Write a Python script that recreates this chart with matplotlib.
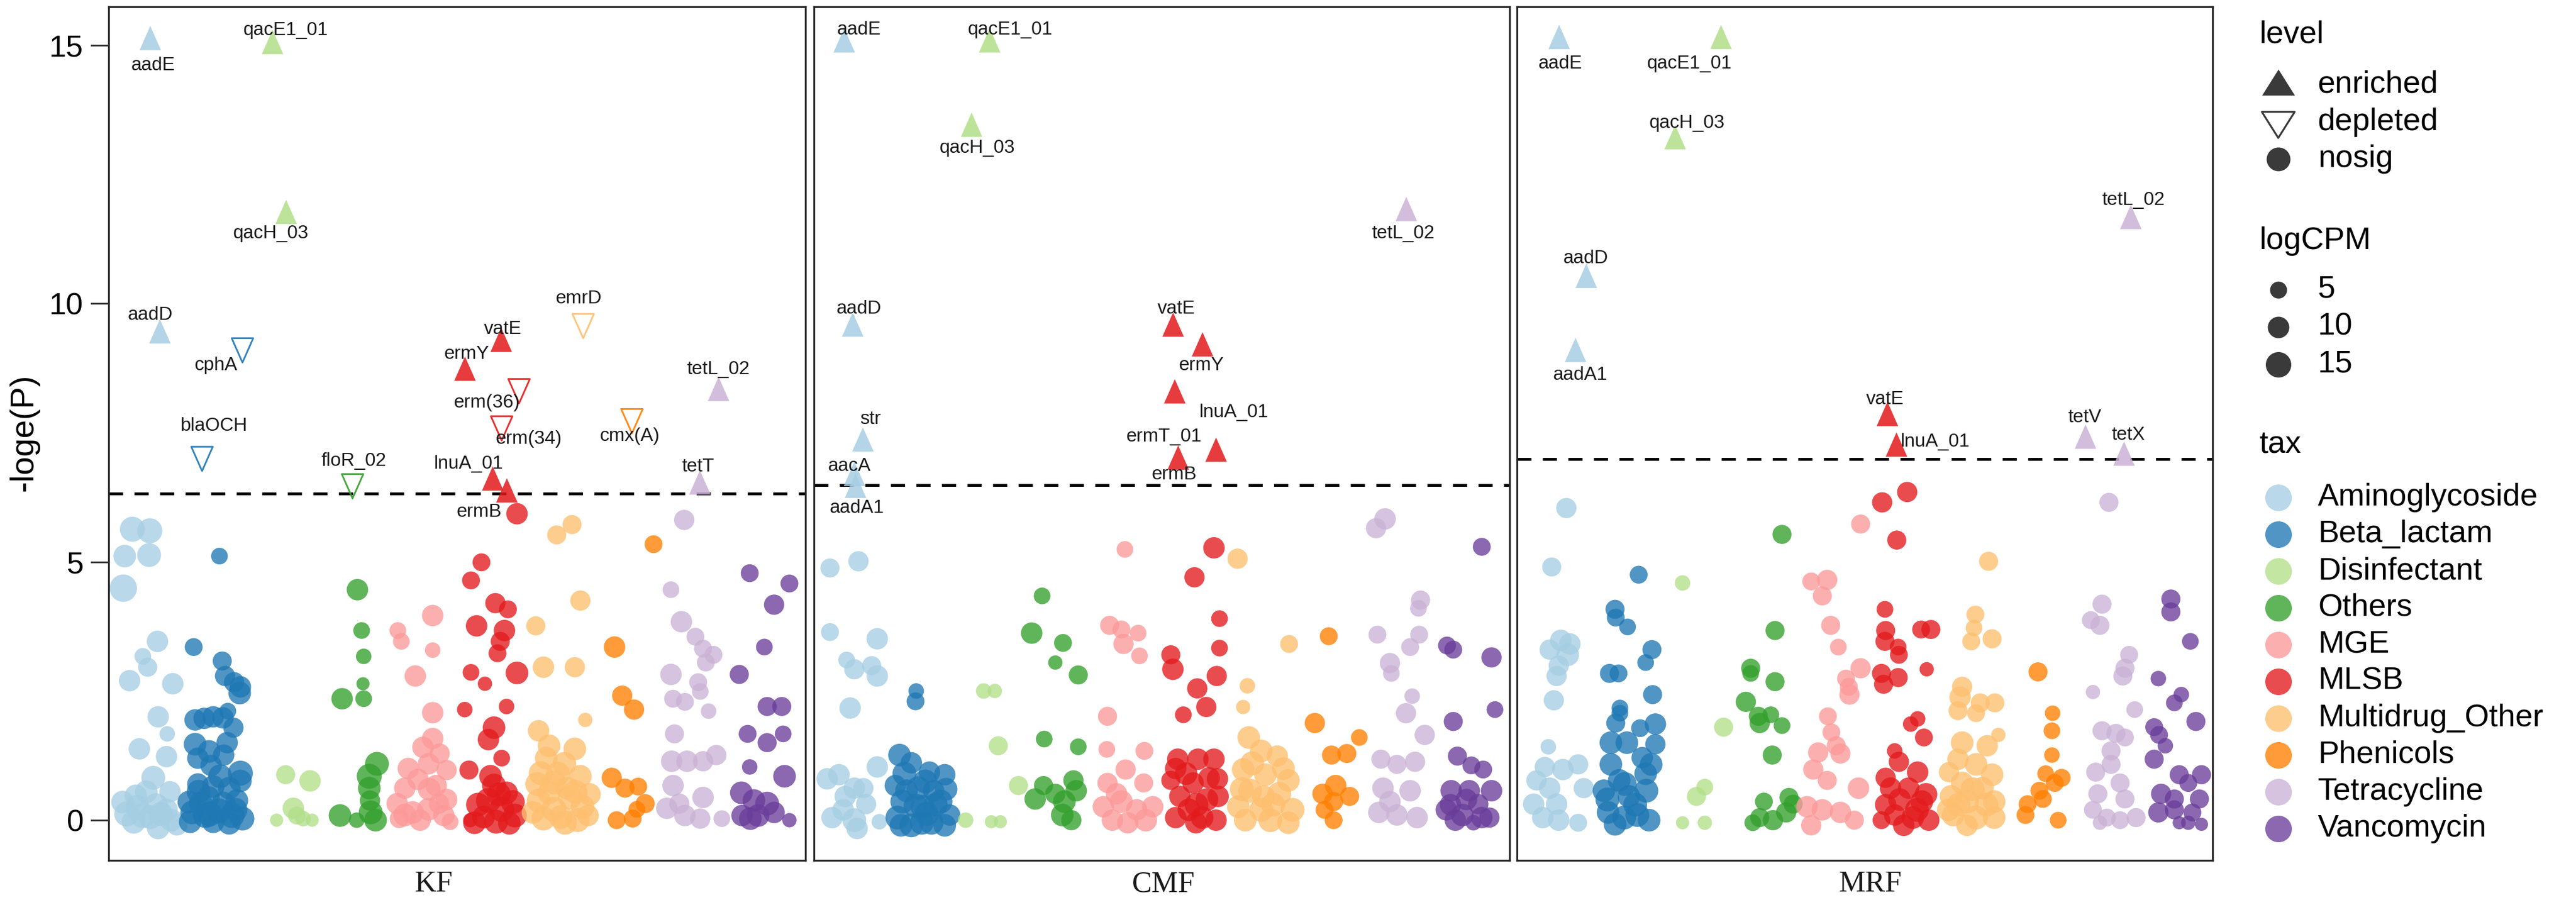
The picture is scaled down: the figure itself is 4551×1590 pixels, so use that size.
import matplotlib
matplotlib.use("Agg")
import matplotlib.pyplot as plt
from matplotlib.path import Path
from matplotlib.markers import MarkerStyle
from matplotlib import font_manager as fm

plt.rcParams['lines.scale_dashes'] = False

# ---------------- data ----------------
TAX = ["Aminoglycoside", "Beta_lactam", "Disinfectant", "Others", "MGE", "MLSB",
       "Multidrug_Other", "Phenicols", "Tetracycline", "Vancomycin"]
TAX_COLORS = ["#A6CEE3", "#1F78B4", "#B2DF8A", "#33A02C", "#FB9A99", "#E31A1C",
              "#FDBF6F", "#FF7F00", "#CAB2D6", "#6A3D9A"]
PANELS = ["KF", "CMF", "MRF"]
THRESHOLDS = [6.32, 6.48, 6.99]
YTICKS = [0, 5, 10, 15]
LEVELS = ["enriched", "depleted", "nosig"]
LOGCPM_BREAKS = [5, 10, 15]

# non-significant genes: (position, -loge(P), logCPM)
KF_NOSIG = {
    "Aminoglycoside": [(3.4,5.63,12),(5.9,5.60,12),(2.3,5.11,10),(5.8,5.13,11),(2.1,4.49,14),(7.0,3.46,9),
                       (4.9,3.17,5),(5.6,2.96,7),(3.0,2.70,9),(9.2,2.64,9),(7.1,2.00,9),(8.4,1.67,4),
                       (4.4,1.38,9),(8.3,1.23,9),(6.4,0.82,11),(3.9,0.47,10),(2.6,0.12,12),(4.9,0.09,12),
                       (6.8,0.29,11),(7.5,0.12,11),(9.0,0.00,10),(6.0,0.06,11),(3.6,-0.03,11),(7.1,-0.15,10),
                       (8.3,0.20,10),(4.1,0.26,11),(9.8,-0.09,9),(5.4,0.55,10),(2.0,0.35,10),(8.8,0.55,9)],
    "Beta_lactam": [(15.9,5.11,5),(12.2,3.35,6),(16.3,3.08,7),(16.7,2.79,8),(18.0,2.67,8),(18.9,2.58,9),
                    (18.8,2.46,10),(17.1,2.11,5),(12.4,1.94,9),(13.7,1.97,9),(15.0,2.00,9),(16.4,1.98,9),
                    (17.9,1.79,8),(12.4,1.47,10),(14.4,1.33,10),(12.8,1.20,9),(16.5,1.26,9),(14.7,1.06,9),
                    (18.9,0.91,12),(18.9,0.76,10),(17.3,0.62,10),(12.8,0.70,9),(15.0,0.65,10),(12.0,0.15,11),
                    (13.9,0.09,12),(15.8,0.18,12),(17.7,0.09,12),(19.2,0.03,11),(13.2,0.32,11),(16.5,0.32,11),
                    (18.4,0.38,10),(11.7,-0.03,10),(15.0,-0.03,10),(17.3,-0.06,10),(14.3,0.44,10),
                    (12.9,0.55,11),(16.0,0.85,11),(18.2,0.20,11),(14.5,0.12,12),(11.5,0.35,10),(17.0,1.50,9)],
    "Disinfectant": [(25.4,0.88,7),(28.9,0.76,9),(26.5,0.23,9),(24.1,0.00,2),(27.0,0.09,6),(27.9,0.03,4),
                     (29.2,0.00,2)],
    "Others": [(35.7,4.46,9),(36.3,3.67,5),(36.6,3.17,4),(36.5,2.64,2),(33.5,2.35,9),(36.6,2.35,5),
               (38.5,1.09,11),(37.4,0.85,12),(37.4,0.62,10),(33.2,0.09,10),(35.6,0.00,4),(37.6,0.15,11),
               (38.3,0.00,10),(37.5,0.38,8)],
    "MGE": [(46.5,3.96,9),(41.5,3.67,5),(42.0,3.46,5),(46.5,3.29,4),(44.0,2.79,9),(46.5,2.08,9),
            (46.5,1.58,9),(45.1,1.41,9),(47.5,1.29,8),(48.5,0.97,8),(45.9,1.09,9),(42.5,0.62,9),
            (44.4,0.79,9),(47.0,0.67,9),(41.4,0.32,9),(43.6,0.15,10),(45.9,0.21,10),(48.1,0.09,9),
            (41.7,0.03,7),(44.7,0.00,9),(47.4,0.32,8),(49.0,-0.03,5),(42.5,0.10,10),(46.0,0.60,10),
            (43.0,1.00,9),(48.5,0.40,9)],
    "MLSB": [(58.6,5.93,9),(53.5,4.99,6),(52.0,4.64,6),(55.5,4.20,8),(57.3,4.08,6),(52.8,3.76,9),
             (56.8,3.67,9),(56.2,3.46,7),(55.8,3.23,6),(52.0,2.86,5),(58.6,2.85,10),(54.0,2.64,3),
             (51.1,2.14,4),(57.1,2.20,4),(55.3,1.79,10),(54.5,1.56,9),(56.4,1.20,5),(51.7,0.97,7),
             (55.3,0.67,11),(57.1,0.53,10),(54.5,0.38,12),(56.4,0.21,12),(58.3,0.09,11),(53.8,0.06,10),
             (55.6,-0.03,11),(51.9,0.00,3),(57.5,-0.06,10),(53.0,0.30,11),(56.0,0.50,11),(58.0,0.35,11),
             (54.8,0.85,10),(52.5,-0.05,10)],
    "Multidrug_Other": [(66.5,5.72,7),(64.3,5.52,7),(67.7,4.25,8),(61.3,3.76,7),(62.4,2.96,9),(66.9,2.96,8),
                        (68.4,1.94,3),(61.7,1.73,9),(63.2,1.44,10),(66.9,1.38,10),(65.4,1.09,11),(62.0,0.91,11),
                        (67.7,0.85,10),(63.9,0.73,11),(61.7,0.38,11),(63.9,0.21,12),(66.2,0.44,11),(68.0,0.26,11),
                        (62.4,0.03,11),(64.9,0.06,11),(67.3,0.00,11),(68.8,0.09,9),(60.9,0.15,10),(63.2,0.53,10),
                        (65.8,0.62,10),(61.5,0.70,11),(64.5,0.90,11),(67.0,0.55,11),(65.5,-0.05,11),
                        (69.0,0.50,10),(62.8,1.20,10)],
    "Phenicols": [(78.2,5.34,6),(72.6,3.35,9),(73.7,2.41,8),(75.4,2.14,8),(72.2,0.82,8),(74.1,0.62,7),
                  (76.0,0.65,6),(77.0,0.32,7),(75.8,0.21,5),(72.9,0.00,6),(75.2,0.03,6)],
    "Tetracycline": [(82.6,5.81,8),(80.7,4.46,5),(82.2,3.84,9),(84.2,3.55,6),(85.3,3.32,6),(86.8,3.20,6),
                     (85.7,3.05,6),(80.7,2.82,9),(84.6,2.67,6),(84.9,2.49,5),(81.0,2.35,6),(82.7,2.29,6),
                     (86.1,2.11,4),(81.2,1.67,7),(80.8,1.14,9),(83.0,1.14,9),(85.3,1.14,8),(87.2,1.26,8),
                     (81.0,0.67,9),(85.3,0.44,9),(80.1,0.23,9),(82.7,0.09,9),(84.9,0.03,8),(88.0,0.03,5),
                     (81.9,0.32,8)],
    "Vancomycin": [(92.0,4.78,6),(97.7,4.58,6),(95.5,4.17,8),(94.1,3.35,5),(90.5,2.82,7),(94.5,2.20,7),
                   (96.6,2.20,7),(91.7,1.67,6),(96.8,1.67,5),(94.5,1.50,7),(92.0,1.03,4),(97.0,0.85,10),
                   (90.8,0.53,10),(92.6,0.38,10),(94.5,0.32,11),(90.9,0.09,9),(93.2,0.09,10),(95.5,0.15,9),
                   (97.7,0.00,3),(92.1,0.03,10)],
}

CMF_NOSIG = {
    "Aminoglycoside": [(2.3,4.88,7),(6.4,5.01,8),(2.3,3.64,6),(9.1,3.51,9),(4.7,3.10,5),(5.8,2.92,8),
                       (8.3,2.99,7),(9.1,2.79,9),(5.2,2.17,9),(9.1,1.03,9),(1.9,0.80,9),(3.6,0.88,9),
                       (5.8,0.62,9),(4.5,0.46,9),(7.1,0.62,8),(2.6,0.05,9),(5.8,0.00,11),(4.2,0.20,9),
                       (9.4,-0.03,4),(6.2,-0.16,9),(7.5,0.31,8)],
    "Beta_lactam": [(14.7,2.50,4),(14.6,2.30,6),(12.3,1.26,10),(14.0,1.11,9),(16.6,0.93,9),(18.8,0.88,9),
                    (11.7,0.67,9),(15.0,0.62,11),(17.2,0.57,9),(12.7,0.36,11),(15.6,0.26,11),(18.2,0.36,11),
                    (19.5,0.10,9),(12.0,0.05,11),(14.0,-0.10,11),(16.9,-0.05,11),(18.8,-0.10,10),(13.3,0.57,10),
                    (16.2,0.12,11),(14.6,0.28,11),(13.0,0.90,11),(17.5,0.30,11),(15.5,-0.05,11),(19.0,0.60,10),
                    (12.5,-0.10,10),(16.0,0.75,11)],
    "Disinfectant": [(24.4,2.50,4),(26.0,2.50,3),(26.5,1.44,7),(29.4,0.67,7),(21.8,0.00,4),(25.5,-0.03,2),
                     (26.8,-0.03,2)],
    "Others": [(32.8,4.34,5),(31.3,3.62,9),(35.8,3.43,6),(34.7,3.05,3),(38.0,2.81,7),(33.1,1.57,5),
               (38.0,1.42,5),(33.0,0.67,7),(31.8,0.41,9),(34.7,0.51,8),(37.3,0.77,8),(36.0,0.36,10),
               (37.7,0.57,9),(35.7,0.10,10),(37.0,0.00,8)],
    "MGE": [(44.7,5.24,5),(42.5,3.77,7),(44.2,3.69,6),(46.6,3.62,5),(44.5,3.41,8),(46.8,3.18,5),
            (42.2,2.01,7),(42.1,1.37,5),(47.5,1.34,6),(44.8,0.98,8),(47.4,0.72,7),(42.2,0.72,8),
            (41.6,0.26,9),(44.2,0.36,10),(46.4,0.20,9),(48.7,0.26,9),(42.9,0.00,9),(45.1,-0.05,9),
            (47.7,0.00,10),(43.5,0.51,9)],
    "MLSB": [(57.5,5.27,9),(54.7,4.70,8),(58.3,3.90,5),(58.3,3.33,5),(51.3,3.20,7),(51.6,2.92,9),
             (57.9,2.79,8),(55.1,2.55,8),(56.4,2.19,8),(53.1,2.04,5),(52.3,1.18,9),(55.2,1.18,9),
             (57.5,1.18,9),(51.3,0.77,7),(54.5,0.72,9),(56.8,0.82,9),(52.6,0.46,9),(58.1,0.46,9),
             (53.9,0.20,10),(55.8,0.05,10),(57.8,0.00,9),(52.0,0.05,9),(54.9,-0.05,9),(53.5,0.90,10),
             (56.5,0.40,10),(58.0,0.80,9),(52.0,1.00,9),(55.0,0.30,11)],
    "Multidrug_Other": [(60.9,5.06,8),(68.3,3.41,6),(62.3,2.60,4),(61.7,2.19,3),(64.3,1.34,10),(66.6,1.24,9),
                        (61.7,0.98,10),(64.9,0.88,10),(68.2,0.77,10),(62.7,0.57,11),(66.9,0.51,11),(61.0,0.26,10),
                        (64.3,0.20,11),(68.8,0.20,11),(62.0,0.00,10),(65.6,0.00,11),(68.2,-0.05,10),(64.6,0.46,10),
                        (63.0,1.10,11),(66.0,0.30,11),(62.5,1.60,10),(67.5,1.00,10),(61.5,0.60,11)],
    "Phenicols": [(74.0,3.56,6),(72.0,1.88,8),(78.4,1.60,5),(76.6,1.29,7),(74.4,1.26,7),(75.0,0.67,9),
                  (73.1,0.51,8),(74.7,0.36,7),(77.0,0.46,7),(74.7,0.00,6),(73.4,0.20,6)],
    "Tetracycline": [(82.1,5.83,9),(80.8,5.65,8),(87.2,4.26,7),(86.9,4.10,5),(81.0,3.59,6),(87.0,3.59,6),
                     (85.7,3.35,6),(82.8,3.04,8),(83.0,2.84,5),(86.0,2.40,4),(85.1,2.07,8),(87.8,1.65,8),
                     (81.5,1.18,7),(83.8,1.08,7),(86.4,1.13,8),(81.8,0.62,9),(85.7,0.57,9),(81.2,0.15,9),
                     (83.8,0.10,9),(86.7,0.05,9),(82.8,0.36,9)],
    "Vancomycin": [(96.0,5.29,6),(91.0,3.38,6),(91.9,3.30,6),(97.4,3.15,8),(97.9,2.14,5),(91.9,1.91,7),
                   (92.5,1.24,7),(94.5,1.06,6),(96.2,0.98,6),(91.6,0.57,9),(94.2,0.57,9),(97.4,0.57,9),
                   (90.9,0.20,9),(93.2,0.10,10),(95.5,0.31,8),(97.1,0.05,8),(94.8,-0.05,4),(92.2,0.00,9),
                   (91.5,0.30,9),(93.8,0.40,9),(96.0,0.05,9)],
}

MRF_NOSIG = {
    "Aminoglycoside": [(7.1,6.04,8),(5.0,4.90,7),(4.7,3.30,8),(6.3,3.48,9),(7.6,3.41,9),(7.3,3.20,10),
                       (6.0,2.99,8),(5.7,2.79,8),(5.3,2.32,8),(4.5,1.42,4),(4.0,1.03,8),(6.6,0.98,9),
                       (8.8,1.08,8),(2.8,0.77,8),(9.6,0.62,8),(4.7,0.62,9),(2.4,0.31,9),(5.7,0.31,9),
                       (3.7,0.05,9),(6.0,0.00,9),(8.8,-0.05,6)],
    "Beta_lactam": [(17.5,4.75,6),(14.1,4.08,7),(14.2,3.92,6),(15.9,3.74,5),(19.4,3.30,7),(18.5,3.05,5),
                    (13.3,2.84,7),(14.6,2.84,6),(19.5,2.43,7),(14.8,2.17,5),(14.8,2.07,5),(14.2,1.88,7),
                    (17.7,1.78,6),(19.9,1.86,9),(19.9,1.47,8),(18.0,1.21,9),(19.3,1.08,10),(13.5,1.08,10),
                    (14.7,0.77,10),(18.6,0.57,11),(12.5,0.57,10),(16.1,0.46,10),(13.1,0.15,10),(15.4,0.05,11),
                    (17.3,0.10,11),(19.0,0.00,10),(14.1,-0.08,10),(13.0,0.40,11),(15.5,0.70,11),(17.0,0.30,11),
                    (18.5,0.90,10),(15.8,1.50,10),(13.5,1.50,10)],
    "Disinfectant": [(23.8,4.59,4),(29.7,1.80,7),(27.0,0.64,5),(25.8,0.46,7),(23.8,-0.05,2),(27.0,-0.05,3)],
    "Others": [(38.1,5.53,7),(37.1,3.67,7),(33.6,2.94,7),(33.6,2.84,5),(37.1,2.68,7),(32.9,2.29,8),
               (34.7,2.01,7),(36.5,2.04,5),(34.9,1.88,8),(38.1,1.83,5),(36.7,1.26,7),(35.5,0.36,6),
               (39.1,0.44,7),(34.9,0.05,7),(36.8,0.00,8),(38.7,0.15,8),(33.9,-0.05,5),(39.7,0.31,7)],
    "MGE": [(49.4,5.73,7),(42.3,4.62,6),(44.6,4.65,8),(43.9,4.34,7),(45.1,3.77,7),(46.2,3.35,5),
            (49.4,2.94,8),(47.3,2.74,6),(47.7,2.58,6),(47.8,2.43,8),(44.7,2.01,6),(45.2,1.70,6),
            (45.9,1.44,7),(43.3,1.31,8),(46.5,1.29,8),(42.6,0.98,8),(44.6,0.77,7),(49.1,0.62,9),
            (41.7,0.26,9),(43.9,0.20,9),(46.5,0.15,9),(48.5,0.00,7),(42.3,-0.10,8)],
    "MLSB": [(56.1,6.35,8),(52.5,6.15,8),(54.6,5.42,7),(52.9,4.08,5),(53.0,3.67,7),(58.1,3.69,6),
             (59.5,3.69,7),(52.9,3.46,7),(54.8,3.35,5),(54.9,3.20,6),(58.9,2.92,3),(52.4,2.84,7),
             (54.8,2.76,7),(52.7,2.63,7),(56.6,1.86,4),(57.6,1.96,4),(58.5,1.60,6),(54.3,1.34,4),
             (54.9,1.13,8),(57.6,0.93,9),(53.0,0.82,8),(53.7,0.62,9),(56.3,0.62,9),(58.2,0.36,10),
             (52.4,0.00,6),(54.3,0.10,9),(56.9,0.05,10),(59.2,0.00,9),(55.6,-0.10,9),(57.5,0.20,11),
             (58.8,0.50,10),(55.0,0.40,10),(53.0,0.30,9)],
    "Multidrug_Other": [(67.8,5.01,7),(65.9,3.98,6),(65.7,3.72,5),(68.3,3.51,7),(65.3,3.46,6),(64.0,2.58,8),
                        (63.7,2.38,9),(66.6,2.27,7),(68.7,2.27,7),(66.0,2.07,6),(63.4,2.12,7),(69.2,1.65,3),
                        (67.6,1.44,9),(63.4,1.18,9),(66.0,1.08,10),(62.1,0.93,8),(68.3,0.88,10),(64.0,0.72,10),
                        (66.9,0.62,10),(62.4,0.46,10),(64.7,0.36,11),(68.6,0.36,10),(62.7,0.10,10),(66.0,0.05,11),
                        (68.6,0.05,10),(64.7,-0.10,9),(63.5,0.30,11),(65.5,0.60,11),(67.5,0.30,11),
                        (64.0,1.50,10),(62.0,0.20,10)],
    "Phenicols": [(74.9,2.87,7),(77.0,2.07,4),(76.9,1.73,5),(76.9,1.26,4),(76.0,0.90,5),(78.3,0.82,6),
                  (77.3,0.72,6),(75.1,0.57,6),(73.4,0.31,6),(73.1,0.10,6),(77.8,0.00,5),(75.6,0.41,6)],
    "Tetracycline": [(85.1,6.15,7),(84.1,4.18,7),(82.5,3.87,6),(83.8,3.77,7),(88.0,3.20,6),(87.4,2.94,7),
                     (87.1,2.79,7),(82.8,2.48,3),(88.8,2.14,5),(84.1,1.73,7),(86.1,1.68,7),(87.4,1.60,6),
                     (85.4,1.34,7),(85.4,1.08,7),(83.2,0.93,7),(86.7,0.72,7),(83.5,0.51,7),(87.4,0.41,7),
                     (82.8,0.20,6),(84.8,0.05,6),(86.7,0.00,6),(89.0,0.05,7),(83.8,-0.05,3)],
    "Vancomycin": [(94.0,4.28,7),(94.0,4.03,7),(96.8,3.46,5),(92.2,2.74,4),(95.5,2.43,4),(94.5,2.27,5),
                   (97.6,1.91,7),(91.6,1.80,6),(92.3,1.65,6),(93.2,1.44,4),(91.6,1.18,7),(95.2,0.88,7),
                   (98.4,0.88,7),(96.5,0.72,6),(92.6,0.51,8),(94.5,0.41,7),(98.1,0.41,7),(92.2,0.15,8),
                   (94.5,0.20,7),(96.5,-0.05,3),(98.4,-0.08,2),(95.2,-0.05,2),(97.1,0.15,6)],
}

# significant (labelled) genes
KF_SIG_GENE = ["aadE", "qacE1_01", "qacH_03", "aadD", "cphA", "blaOCH", "floR_02", "ermY", "vatE",
               "erm(36)", "erm(34)", "lnuA_01", "ermB", "emrD", "cmx(A)", "tetL_02", "tetT"]
KF_SIG_TAX = ["Aminoglycoside", "Disinfectant", "Disinfectant", "Aminoglycoside", "Beta_lactam", "Beta_lactam",
              "Others", "MLSB", "MLSB", "MLSB", "MLSB", "MLSB", "MLSB", "Multidrug_Other", "Phenicols",
              "Tetracycline", "Tetracycline"]
KF_SIG_LEVEL = ["enriched", "enriched", "enriched", "enriched", "depleted", "depleted", "depleted", "enriched",
                "enriched", "depleted", "depleted", "enriched", "enriched", "depleted", "depleted", "enriched",
                "enriched"]
KF_SIG_X = [5.9, 23.5, 25.4, 7.3, 19.2, 13.4, 35.0, 51.1, 56.3, 58.9, 56.4, 55.1, 57.1, 68.1, 75.1, 87.5, 84.8]
KF_SIG_Y = [15.06, 14.98, 11.70, 9.39, 9.17, 7.07, 6.54, 8.66, 9.22, 8.38, 7.66, 6.54, 6.31, 9.64, 7.80, 8.27, 6.46]

CMF_SIG_GENE = ["aadE", "qacE1_01", "qacH_03", "tetL_02", "aadD", "vatE", "ermY", "ermT_01", "lnuA_01",
                "ermB", "str", "aacA", "aadA1"]
CMF_SIG_TAX = ["Aminoglycoside", "Disinfectant", "Disinfectant", "Tetracycline", "Aminoglycoside", "MLSB",
               "MLSB", "MLSB", "MLSB", "MLSB", "Aminoglycoside", "Aminoglycoside", "Aminoglycoside"]
CMF_SIG_LEVEL = ["enriched"] * 13
CMF_SIG_X = [4.35, 25.2, 22.6, 85.1, 5.5, 51.6, 55.8, 51.8, 57.8, 52.3, 7.0, 5.8, 5.9]
CMF_SIG_Y = [15.02, 15.02, 13.39, 11.75, 9.52, 9.52, 9.14, 8.23, 7.10, 6.94, 7.29, 6.63, 6.40]

MRF_SIG_GENE = ["aadE", "qacE1_01", "qacH_03", "tetL_02", "aadD", "aadA1", "vatE", "lnuA_01", "tetV", "tetX"]
MRF_SIG_TAX = ["Aminoglycoside", "Disinfectant", "Disinfectant", "Tetracycline", "Aminoglycoside",
               "Aminoglycoside", "MLSB", "MLSB", "Tetracycline", "Tetracycline"]
MRF_SIG_LEVEL = ["enriched"] * 10
MRF_SIG_X = [6.0, 29.3, 22.7, 88.2, 9.9, 8.4, 53.2, 54.5, 81.7, 87.2]
MRF_SIG_Y = [15.08, 15.08, 13.14, 11.60, 10.46, 9.02, 7.79, 7.20, 7.35, 7.02]

# ---------------- layout (label placement, repel-like) ----------------
KF_LABEL_POS = [(6.4, 14.61), (25.4, 15.28), (23.3, 11.35), (6.0, 9.78), (15.4, 8.80), (15.1, 7.63),
                (35.2, 6.95), (51.4, 9.02), (56.6, 9.50), (54.3, 8.08), (60.3, 7.38), (51.7, 6.90),
                (53.2, 5.96), (67.5, 10.09), (74.8, 7.43), (87.5, 8.72), (84.6, 6.84)]
CMF_LABEL_POS = [(6.5, 15.30), (28.2, 15.30), (23.5, 13.01), (84.7, 11.35), (6.5, 9.90), (52.1, 9.90),
                 (55.7, 8.80), (50.3, 7.42), (60.4, 7.89), (51.8, 6.69), (8.1, 7.76), (5.1, 6.85), (6.2, 6.04)]
MRF_LABEL_POS = [(6.2, 14.64), (24.8, 14.64), (24.4, 13.49), (88.6, 12.00), (9.9, 10.87), (9.1, 8.61),
                 (52.9, 8.14), (60.1, 7.32), (81.6, 7.79), (87.9, 7.45)]

W, H = 4551, 1590
DPI = 100
PX = 72.0 / DPI  # points per pixel

names = {f.name for f in fm.fontManager.ttflist}
SANS = "Liberation Sans" if "Liberation Sans" in names else "DejaVu Sans"
NARROW = "Liberation Sans Narrow" if "Liberation Sans Narrow" in names else SANS
LABEL_FS = 26.5 if NARROW != SANS else 24
SERIF = "Liberation Serif" if "Liberation Serif" in names else "DejaVu Serif"


def tri_marker(w, h, up=True):
    s = 1 if up else -1
    verts = [(0, s * 2 * h / 3), (-w / 2, -s * h / 3), (w / 2, -s * h / 3), (0, s * 2 * h / 3)]
    codes = [Path.MOVETO, Path.LINETO, Path.LINETO, Path.CLOSEPOLY]
    ms_px = 2 * max(abs(v) for p in verts for v in p)
    return MarkerStyle(Path(verts, codes)), ms_px * PX


def cpm_to_s(v):
    d = 19 + 2.1 * v
    return (d * PX) ** 2


ALPHA = 0.78
color_of = dict(zip(TAX, TAX_COLORS))

fig = plt.figure(figsize=(W / DPI, H / DPI), dpi=DPI)
fig.patch.set_facecolor("white")

left_px = [192, 1438, 2680]
width_px = [1231, 1229, 1229]
top_px, bot_px = 12, 1520
YLIM = (-0.778, 15.74)

up_m, up_ms = tri_marker(38, 43, True)
dn_m, dn_ms = tri_marker(38, 43, False)

nosig_all = [KF_NOSIG, CMF_NOSIG, MRF_NOSIG]
sig_all = [
    (KF_SIG_GENE, KF_SIG_TAX, KF_SIG_LEVEL, KF_SIG_X, KF_SIG_Y, KF_LABEL_POS),
    (CMF_SIG_GENE, CMF_SIG_TAX, CMF_SIG_LEVEL, CMF_SIG_X, CMF_SIG_Y, CMF_LABEL_POS),
    (MRF_SIG_GENE, MRF_SIG_TAX, MRF_SIG_LEVEL, MRF_SIG_X, MRF_SIG_Y, MRF_LABEL_POS),
]
label_x_px = [766, 2056, 3304]

for i, panel in enumerate(PANELS):
    ax = fig.add_axes([left_px[i] / W, (H - bot_px) / H, width_px[i] / W, (bot_px - top_px) / H])
    ax.set_xlim(0, 100)
    ax.set_ylim(*YLIM)
    for sp in ax.spines.values():
        sp.set_linewidth(2.4)
        sp.set_color("#262626")
    ax.set_xticks([])
    if i == 0:
        ax.set_yticks(YTICKS)
        ax.set_yticklabels([str(t) for t in YTICKS], fontsize=39, family=SANS, color="black")
        ax.tick_params(axis="y", length=23, width=2.2, pad=9, color="#333333")
    else:
        ax.set_yticks([])

    # nosig points
    for tax in TAX:
        pts = nosig_all[i].get(tax, [])
        if not pts:
            continue
        xs = [p[0] for p in pts]
        ys = [p[1] for p in pts]
        ss = [cpm_to_s(p[2]) for p in pts]
        ax.scatter(xs, ys, s=ss, c=color_of[tax], alpha=ALPHA, linewidths=0, zorder=2)

    # threshold
    ln = ax.axhline(THRESHOLDS[i], color="black", linewidth=3.6, zorder=1.5)
    ln.set_dashes([18, 14.5])

    genes, taxes, levels, xs, ys, lpos = sig_all[i]
    for g, t, lv, x, y, lp in zip(genes, taxes, levels, xs, ys, lpos):
        if lv == "enriched":
            ax.scatter([x], [y], marker=up_m, s=up_ms ** 2, c=color_of[t], alpha=0.85,
                       linewidths=0, zorder=3)
        else:
            ax.scatter([x], [y], marker=dn_m, s=dn_ms ** 2, facecolors="none",
                       edgecolors=color_of[t], linewidths=2.2, alpha=0.9, zorder=3)
        ax.text(lp[0], lp[1], g, fontsize=LABEL_FS, family=[NARROW, SANS], color="#1a1a1a",
                ha="center", va="center", zorder=4)

    fig.text(label_x_px[i] / W, 1 - 1562 / H, panel, fontsize=38, family=SERIF,
             ha="center", va="center", color="#1a1a1a")

# y-axis title
fig.text(42 / W, 1 - 764 / H, "-loge(P)", rotation=90, fontsize=42, family=SANS,
         ha="center", va="center", color="black")

# ---------------- legend ----------------
lg = fig.add_axes([3900 / W, 0, 651 / W, 1])
lg.set_xlim(3900, W)
lg.set_ylim(H, 0)
lg.axis("off")
LG_FS = 40
mx, tx = 4025, 4095
GRAY = "#3a3a3a"

lg.text(3991, 61, "level", fontsize=LG_FS, family=SANS, va="center", ha="left")
lup, lup_ms = tri_marker(58, 46, True)
ldn, ldn_ms = tri_marker(58, 46, False)
lvl_y = [150, 216, 281]
lg.scatter([mx], [lvl_y[0] + 3], marker=lup, s=lup_ms ** 2, c=GRAY, linewidths=0, clip_on=False)
lg.scatter([mx], [lvl_y[1] - 3], marker=ldn, s=ldn_ms ** 2, facecolors="none", edgecolors=GRAY,
           linewidths=2.4, clip_on=False)
lg.scatter([mx], [lvl_y[2]], s=(42 * PX) ** 2, c=GRAY, linewidths=0, clip_on=False)
for yy, name in zip(lvl_y, LEVELS):
    lg.text(tx, yy, name, fontsize=LG_FS, family=SANS, va="center", ha="left")

lg.text(3991, 426, "logCPM", fontsize=LG_FS, family=SANS, va="center", ha="left")
cpm_y = [512, 578, 644]
LEG_CPM_PX = [30, 38, 45]
for yy, b, dpx in zip(cpm_y, LOGCPM_BREAKS, LEG_CPM_PX):
    lg.scatter([mx], [yy], s=(dpx * PX) ** 2, c=GRAY, linewidths=0, clip_on=False)
    lg.text(tx, yy, str(b), fontsize=LG_FS, family=SANS, va="center", ha="left")

lg.text(3991, 786, "tax", fontsize=LG_FS, family=SANS, va="center", ha="left")
for k, (name, col) in enumerate(zip(TAX, TAX_COLORS)):
    yy = 879 + 65 * k
    lg.scatter([mx], [yy], s=(47 * PX) ** 2, c=col, alpha=ALPHA, linewidths=0, clip_on=False)
    lg.text(tx, yy, name, fontsize=LG_FS, family=SANS, va="center", ha="left")

fig.savefig("out.png", dpi=DPI, facecolor="white")
